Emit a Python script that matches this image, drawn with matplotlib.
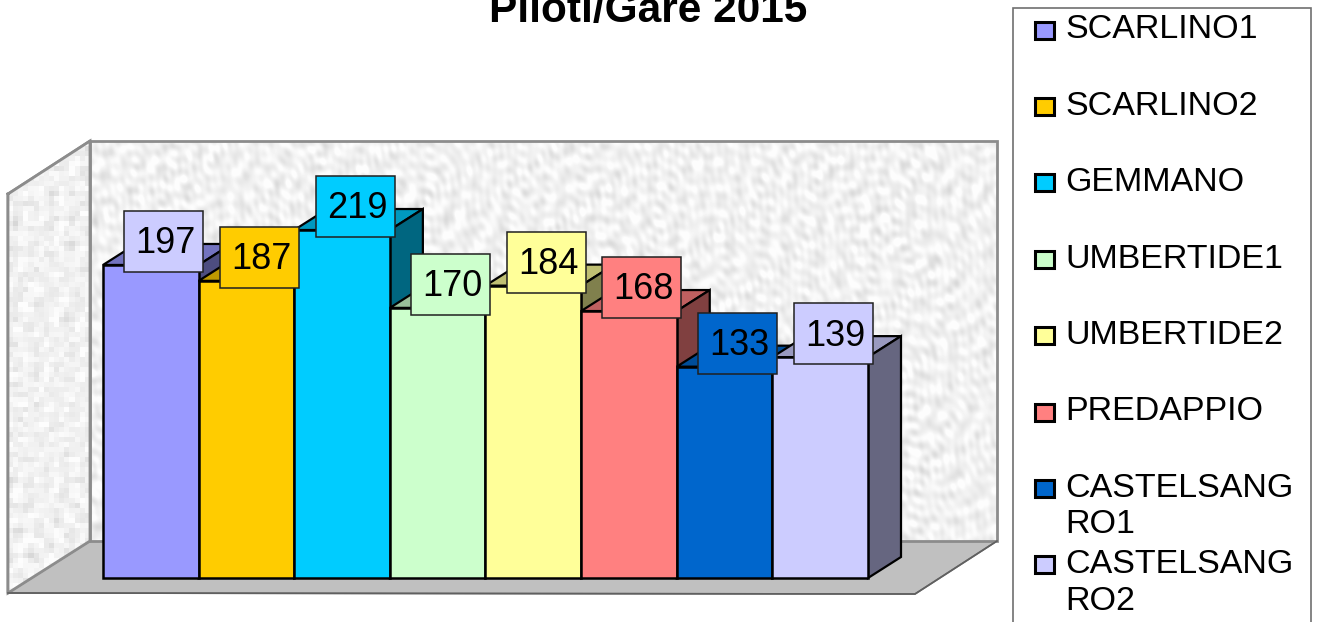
import matplotlib
matplotlib.use('Agg')
import matplotlib.pyplot as plt
from matplotlib.colors import to_rgb
from matplotlib.patches import Polygon, Rectangle
import numpy as np

plt.rcParams['font.family'] = ['Liberation Sans', 'DejaVu Sans']

TITLE = 'Piloti/Gare 2015'
legend_labels = ['SCARLINO1', 'SCARLINO2', 'GEMMANO', 'UMBERTIDE1', 'UMBERTIDE2',
                 'PREDAPPIO', 'CASTELSANG\nRO1', 'CASTELSANG\nRO2']
values = [197, 187, 219, 170, 184, 168, 133, 139]
colors = ['#9999FF', '#FFCC00', '#00CCFF', '#CCFFCC', '#FFFF99', '#FF8080', '#0066CC', '#CCCCFF']
# first value box is lighter than its bar
box_colors = ['#CCCCFF', '#FFCC00', '#00CCFF', '#CCFFCC', '#FFFF99', '#FF8080', '#0066CC', '#CCCCFF']

W, H = 1317, 622
BAR_W_PX = 765 / 8
PX_PER_UNIT = 1.589
YMAX = 219
DEPTH_X = 33 / BAR_W_PX
DEPTH_Y = 21 / PX_PER_UNIT


def shade(color, k):
    return tuple(c * k for c in to_rgb(color))


def mottled(nx, ny, scale):
    # grey blotches for the walls: many sine waves in golden angle directions
    y, x = np.mgrid[0:ny, 0:nx] * scale
    z = np.zeros_like(x, dtype=float)
    for k in range(60):
        ang = k * 2.39996
        wavelength = 7 + (k * 0.618034 % 1) * 22
        phase = k * k * 0.7548
        z += np.sin((x * np.cos(ang) + y * np.sin(ang)) * 2 * np.pi / wavelength + phase)
    z = (z - z.mean()) / z.std()
    return np.clip(0.945 + 0.028 * z, 0.76, 0.99)


fig = plt.figure(figsize=(W / 100, H / 100), dpi=100)

# walls, floor, legend frame live in a pixel sized axes
bg = fig.add_axes([0, 0, 1, 1])
bg.set_xlim(0, W)
bg.set_ylim(H, 0)
bg.axis('off')

WALL = '#8c8c8c'
left_wall = Polygon([(8, 194), (90, 141), (90, 541), (8, 593)], closed=True, fc='#f0f0f0', ec=WALL, lw=2, zorder=2)
floor = Polygon([(8, 593), (90, 541), (997, 541), (915, 594)], closed=True, fc='#c0c0c0', ec='#707070', lw=1.2, zorder=2)
bg.add_patch(left_wall)
bg.add_patch(floor)

img = bg.imshow(mottled(16, 90, 5.0), extent=(8, 90, 593, 141), cmap='gray', vmin=0, vmax=1,
                aspect='auto', interpolation='nearest', zorder=2.1)
img.set_clip_path(left_wall)
bg.imshow(mottled(907, 400, 1.0), extent=(90, 997, 541, 141), cmap='gray', vmin=0, vmax=1,
          aspect='auto', interpolation='bilinear', zorder=2.1)
bg.add_patch(Rectangle((90, 141), 907, 400, fc='none', ec=WALL, lw=2, zorder=2.2))
bg.plot([8, 90, 90, 8, 8], [194, 141, 541, 593, 194], color=WALL, lw=2, zorder=2.2)
bg.plot([8, 915, 997], [593, 594, 541], color='#606060', lw=1.2, zorder=2.2)
bg.set_xlim(0, W)
bg.set_ylim(H, 0)

bg.text(648, 22, TITLE, fontsize=30.5, fontweight='bold', ha='center', va='baseline', color='black')

# legend
bg.add_patch(Rectangle((1013, 8), 298, 640, fc='white', ec='#707070', lw=1.2, zorder=2))
for i, (name, c) in enumerate(zip(legend_labels, colors)):
    y = 29 + 76.4 * i
    bg.add_patch(Rectangle((1034.5, y - 7.5), 19, 17, fc=c, ec='black', lw=2.2, zorder=3))
    for j, line in enumerate(name.split('\n')):
        bg.text(1065, y + 1 + 36.5 * j, line, fontsize=24.5, ha='left', va='center', color='black', zorder=3)

# bars, real data axes
ax = fig.add_axes([103 / W, (H - 578) / H, 765 / W, YMAX * PX_PER_UNIT / H])
ax.set_xlim(0, len(values))
ax.set_ylim(0, YMAX)
ax.axis('off')
ax.patch.set_alpha(0)

for i, (v, c) in enumerate(zip(values, colors)):
    z = 3 + i * 0.1
    top = [(i, v), (i + DEPTH_X, v + DEPTH_Y), (i + 1 + DEPTH_X, v + DEPTH_Y), (i + 1, v)]
    side = [(i + 1, 0), (i + 1 + DEPTH_X, DEPTH_Y), (i + 1 + DEPTH_X, v + DEPTH_Y), (i + 1, v)]
    ax.add_patch(Polygon(top, closed=True, fc=shade(c, 0.75), ec='black', lw=1.6, zorder=z, clip_on=False))
    ax.add_patch(Polygon(side, closed=True, fc=shade(c, 0.5), ec='black', lw=1.6, zorder=z, clip_on=False))
    ax.bar(i + 0.5, v, width=1, color=c, edgecolor='black', linewidth=1.8, zorder=z + 0.01, clip_on=False)

# value boxes sit above everything
box_w = 79 / BAR_W_PX
box_h = 61 / PX_PER_UNIT
for i, (v, c) in enumerate(zip(values, box_colors)):
    cx = i + 0.5 + 13 / BAR_W_PX
    cy = v + 23.5 / PX_PER_UNIT
    ax.add_patch(Rectangle((cx - box_w / 2, cy - box_h / 2), box_w, box_h, fc=c, ec='#202020',
                           lw=1.1, zorder=10, clip_on=False))
    ax.text(cx + 2 / BAR_W_PX, cy + 1, str(v), fontsize=26, ha='center', va='center_baseline', color='black', zorder=11, clip_on=False)

fig.savefig('out.png', dpi=100)
